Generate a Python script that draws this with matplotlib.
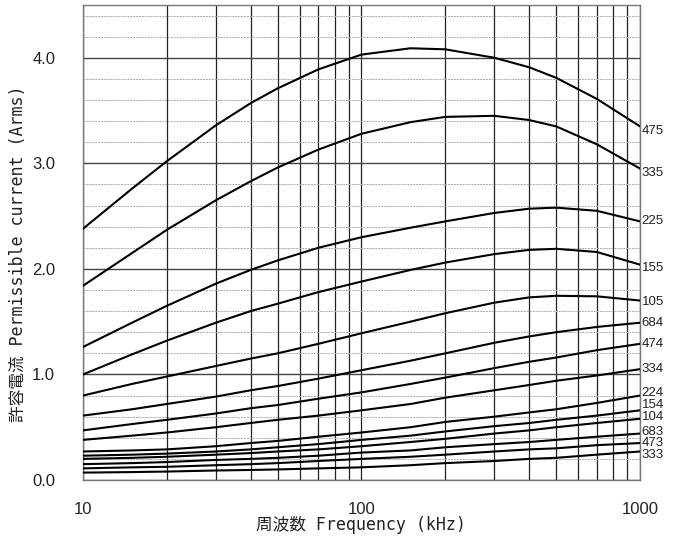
import matplotlib
matplotlib.use("Agg")
import matplotlib.pyplot as plt
from matplotlib.ticker import MultipleLocator, LogLocator, FuncFormatter

# %%
# Frequency points (kHz)
freq = [10, 15, 20, 30, 40, 50, 70, 100, 150, 200, 300, 400, 500, 700, 1000]

# Permissible current (Arms) for each part code
i_475 = [2.38, 2.76, 3.02, 3.36, 3.57, 3.71, 3.89, 4.03, 4.09, 4.08, 4.00, 3.91, 3.81, 3.61, 3.35]
i_335 = [1.84, 2.15, 2.37, 2.65, 2.83, 2.96, 3.13, 3.28, 3.39, 3.44, 3.45, 3.41, 3.35, 3.18, 2.95]
i_225 = [1.26, 1.49, 1.65, 1.86, 1.99, 2.08, 2.20, 2.30, 2.39, 2.45, 2.53, 2.57, 2.58, 2.55, 2.45]
i_155 = [1.00, 1.19, 1.32, 1.49, 1.60, 1.67, 1.78, 1.88, 1.99, 2.06, 2.14, 2.18, 2.19, 2.16, 2.04]
i_105 = [0.80, 0.91, 0.98, 1.08, 1.15, 1.20, 1.29, 1.39, 1.50, 1.58, 1.68, 1.73, 1.745, 1.74, 1.70]
i_684 = [0.61, 0.67, 0.72, 0.79, 0.85, 0.89, 0.96, 1.04, 1.13, 1.20, 1.30, 1.36, 1.40, 1.45, 1.49]
i_474 = [0.47, 0.53, 0.57, 0.63, 0.68, 0.71, 0.77, 0.83, 0.91, 0.97, 1.06, 1.12, 1.16, 1.23, 1.29]
i_334 = [0.38, 0.42, 0.45, 0.50, 0.54, 0.57, 0.61, 0.66, 0.72, 0.78, 0.85, 0.90, 0.94, 0.99, 1.05]
i_224 = [0.27, 0.28, 0.29, 0.32, 0.35, 0.37, 0.41, 0.45, 0.50, 0.55, 0.60, 0.64, 0.67, 0.73, 0.80]
i_154 = [0.23, 0.24, 0.25, 0.27, 0.29, 0.31, 0.34, 0.38, 0.42, 0.46, 0.51, 0.54, 0.57, 0.61, 0.66]
i_104 = [0.20, 0.21, 0.22, 0.24, 0.255, 0.27, 0.29, 0.32, 0.36, 0.39, 0.44, 0.47, 0.50, 0.54, 0.58]
i_683 = [0.15, 0.16, 0.17, 0.19, 0.20, 0.21, 0.23, 0.26, 0.28, 0.31, 0.34, 0.36, 0.38, 0.41, 0.44]
i_473 = [0.11, 0.12, 0.125, 0.14, 0.15, 0.16, 0.18, 0.20, 0.22, 0.24, 0.27, 0.29, 0.30, 0.33, 0.35]
i_333 = [0.07, 0.075, 0.08, 0.09, 0.095, 0.10, 0.11, 0.12, 0.14, 0.16, 0.18, 0.20, 0.21, 0.24, 0.27]

codes = ["475", "335", "225", "155", "105", "684", "474",
         "334", "224", "154", "104", "683", "473", "333"]
series = [i_475, i_335, i_225, i_155, i_105, i_684, i_474,
          i_334, i_224, i_154, i_104, i_683, i_473, i_333]
# where the code labels sit on the right edge (Arms)
label_y = [3.31, 2.91, 2.45, 2.01, 1.69, 1.49, 1.29,
           1.05, 0.82, 0.71, 0.60, 0.45, 0.35, 0.24]

# %%
jp_font = ["DejaVu Sans Mono", "Noto Sans CJK JP"]
num_font = ["Liberation Sans", "DejaVu Sans"]

fig = plt.figure(figsize=(6.79, 5.42), dpi=100)
ax = fig.add_axes([0.1222, 0.1144, 0.8204, 0.8764])

for vals in series:
    ax.plot(freq, vals, color="black", lw=1.5, zorder=3,
            solid_joinstyle="round")

ax.set_xscale("log")
ax.set_xlim(10, 1000)
ax.set_ylim(0, 4.5)

ax.xaxis.set_major_locator(LogLocator(base=10))
ax.xaxis.set_minor_locator(LogLocator(base=10, subs=range(2, 10)))
ax.xaxis.set_major_formatter(FuncFormatter(lambda v, p: f"{v:.0f}"))
ax.xaxis.set_minor_formatter(FuncFormatter(lambda v, p: ""))
ax.yaxis.set_major_locator(MultipleLocator(1.0))
ax.yaxis.set_minor_locator(MultipleLocator(0.2))
ax.yaxis.set_major_formatter(FuncFormatter(lambda v, p: f"{v:.1f}"))

# grid: solid verticals everywhere, dashed for minor horizontals
ax.grid(which="major", axis="x", color="#222222", lw=0.9)
ax.grid(which="minor", axis="x", color="#222222", lw=0.9)
ax.grid(which="major", axis="y", color="#444444", lw=1.0)
ax.grid(which="minor", axis="y", color="#aaaaaa", lw=0.7, ls=(0, (2, 1)))
ax.set_axisbelow(True)

for s in ax.spines.values():
    s.set_color("#777777")
    s.set_linewidth(1.0)

ax.tick_params(which="both", length=0)
ax.tick_params(axis="y", pad=20, labelsize=12)
ax.tick_params(axis="x", pad=16, labelsize=12)
for t in ax.get_xticklabels() + ax.get_yticklabels():
    t.set_family(num_font)
    t.set_color("#222222")

for code, y in zip(codes, label_y):
    ax.text(1.003, y, code, transform=ax.get_yaxis_transform(),
            ha="left", va="center", fontsize=9.5, family=num_font,
            color="#222222")

fig.text(0.532, 0.031, "周波数 Frequency (kHz)", ha="center", va="center",
         fontsize=12, family=jp_font, color="#222222")
fig.text(0.027, 0.532, "許容電流 Permissible current (Arms)", ha="center",
         va="center", rotation=90, fontsize=12, family=jp_font,
         color="#222222")

fig.savefig("out.png", dpi=100)
